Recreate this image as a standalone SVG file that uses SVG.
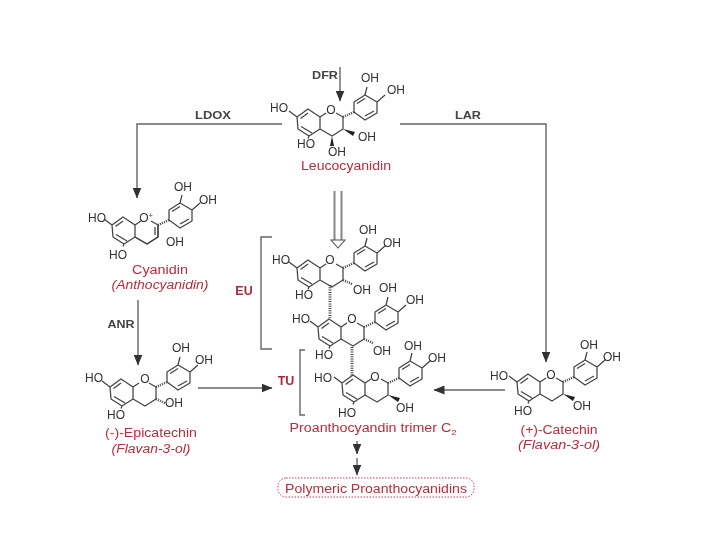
<svg xmlns="http://www.w3.org/2000/svg" width="720" height="540" viewBox="0 0 720 540">
<style>
.b{fill:none;stroke:#444;stroke-width:1.25;stroke-linejoin:round}
.h{fill:none;stroke:#444;stroke-width:3;stroke-dasharray:1 1.3}
.c{fill:none;stroke:#666;stroke-width:1.4}
.m{font:12px "Liberation Sans",Arial,sans-serif;fill:#333;text-anchor:middle}
.r{font:12px "Liberation Sans",Arial,sans-serif;fill:#b03040;text-anchor:middle}
.i{font-style:italic}
.l{font:bold 10.5px "Liberation Sans",Arial,sans-serif;fill:#444;text-anchor:middle}
.e{font:bold 12.5px "Liberation Sans",Arial,sans-serif;fill:#a82a3a;text-anchor:middle}
</style>
<defs>
<marker id="a" viewBox="0 0 11 9" refX="10.500" refY="4.500" markerWidth="11" markerHeight="9" markerUnits="userSpaceOnUse" orient="auto"><path d="M0,0L11,4.500L0,9Z" fill="#333"/></marker>
<filter id="s" x="-5%" y="-5%" width="110%" height="110%"><feGaussianBlur stdDeviation="0.4"/></filter>
<g id="f">
<path class="b" d="M-23,0L-12,-8L0,0L0,12L-11,19L-22,12ZM-19.500,1.500L-12,-4M-8,16L-19,9.500M0,0L6,-4M16,-4L23,0L23,12L12,19L0,12M34,-5L34,-15L45,-22L57,-15L57,-4L45,3ZM37,-13.500L45,-18.500M54,-6L45,-1M-23,0L-31,-6M-11,19L-12,21.500M45,-22L47,-30M57,-15L65,-22"/>
<path d="M23,0L34,-5" fill="none" stroke="#444" stroke-width="2.500" stroke-dasharray="1 1.200"/>
</g>
<path id="w" d="M23,12L35,15L33,19Z" fill="#222"/>
<path id="d" d="M23,12L33,16.500" fill="none" stroke="#444" stroke-width="2.500" stroke-dasharray="1 1.200"/>
</defs>
<rect width="720" height="540" fill="#fff"/>
<g filter="url(#s)">
<g id="connectors">
<path class="c" d="M282,124H137V198" marker-end="url(#a)"/>
<path class="c" d="M400,124H546V362" marker-end="url(#a)"/>
<path class="c" d="M340,67V101" marker-end="url(#a)"/>
<path class="c" d="M138,300V365" marker-end="url(#a)"/>
<path class="c" d="M198,388H272" marker-end="url(#a)"/>
<path class="c" d="M505,390H434" marker-end="url(#a)"/>
<path d="M334.500,191V240M341.500,191V240" fill="none" stroke="#888" stroke-width="2"/>
<path d="M331,240H345L338,248Z" fill="#fff" stroke="#555" stroke-width="1.100"/>
<path class="c" d="M357,441V454" marker-end="url(#a)"/>
<path class="c" d="M357,458V475" marker-end="url(#a)"/>
</g>
<g id="labels">
<text class="l" x="213" y="119" textLength="36" lengthAdjust="spacingAndGlyphs">LDOX</text>
<text class="l" x="468" y="119" textLength="26" lengthAdjust="spacingAndGlyphs">LAR</text>
<text class="l" x="325" y="79" textLength="26" lengthAdjust="spacingAndGlyphs">DFR</text>
<text class="l" x="121" y="328" textLength="27" lengthAdjust="spacingAndGlyphs">ANR</text>
</g>
<g id="leucocyanidin">
<use href="#f" transform="translate(320,117)"/>
<use href="#w" transform="translate(320,117)"/>
<path d="M332,136L330,146H334Z" fill="#222"/>
<text class="m" x="331" y="114">O</text><text class="m" x="279" y="112">HO</text><text class="m" x="370" y="82">OH</text><text class="m" x="396" y="94">OH</text><text class="m" x="367" y="141">OH</text><text class="m" x="306" y="148">HO</text><text class="m" x="337" y="156">OH</text>
<text class="r" x="346" y="170" textLength="90" lengthAdjust="spacingAndGlyphs">Leucocyanidin</text>
</g>
<g id="cyanidin">
<use href="#f" transform="translate(135,225)"/>
<path class="b" d="M158,225L158,237L147,244L135,237M155,227V235"/>
<text class="m" x="146" y="222">O<tspan font-size="7" dy="-4">+</tspan></text><text class="m" x="97" y="222">HO</text><text class="m" x="183" y="191">OH</text><text class="m" x="208" y="204">OH</text><text class="m" x="175" y="246">OH</text><text class="m" x="118" y="259">HO</text>
<text class="r" x="160" y="274" textLength="56" lengthAdjust="spacingAndGlyphs">Cyanidin</text><text class="r i" x="160" y="289" textLength="97" lengthAdjust="spacingAndGlyphs">(Anthocyanidin)</text>
</g>
<g id="epicatechin">
<use href="#f" transform="translate(133,387)"/>
<use href="#d" transform="translate(133,387)"/>
<text class="m" x="145" y="383">O</text><text class="m" x="94" y="382">HO</text><text class="m" x="181" y="352">OH</text><text class="m" x="204" y="364">OH</text><text class="m" x="174" y="407">OH</text><text class="m" x="116" y="419">HO</text>
<text class="r" x="151" y="437" textLength="92" lengthAdjust="spacingAndGlyphs">(-)-Epicatechin</text><text class="r i" x="151" y="453" textLength="79" lengthAdjust="spacingAndGlyphs">(Flavan-3-ol)</text>
</g>
<g id="catechin">
<use href="#f" transform="translate(540,382)"/>
<use href="#w" transform="translate(540,382)"/>
<text class="m" x="551" y="379">O</text><text class="m" x="499" y="380">HO</text><text class="m" x="589" y="349">OH</text><text class="m" x="612" y="361">OH</text><text class="m" x="582" y="410">OH</text><text class="m" x="523" y="415">HO</text>
<text class="r" x="559" y="434" textLength="77" lengthAdjust="spacingAndGlyphs">(+)-Catechin</text><text class="r i" x="559" y="449" textLength="82" lengthAdjust="spacingAndGlyphs">(Flavan-3-ol)</text>
</g>
<g id="trimer">
<use href="#f" transform="translate(320,268)"/>
<use href="#d" transform="translate(320,268)"/>
<use href="#f" transform="translate(341,327)"/>
<use href="#d" transform="translate(341,327)"/>
<use href="#f" transform="translate(365,383)"/>
<use href="#w" transform="translate(365,383)"/>
<path class="h" d="M330,285V318M352,347V377"/>
<text class="m" x="330" y="264">O</text><text class="m" x="281" y="264">HO</text><text class="m" x="368" y="234">OH</text><text class="m" x="392" y="247">OH</text><text class="m" x="362" y="294">OH</text><text class="m" x="304" y="299">HO</text>
<text class="m" x="352" y="323">O</text><text class="m" x="301" y="323">HO</text><text class="m" x="388" y="292">OH</text><text class="m" x="415" y="304">OH</text><text class="m" x="382" y="355">OH</text><text class="m" x="324" y="359">HO</text>
<text class="m" x="375" y="381">O</text><text class="m" x="323" y="382">HO</text><text class="m" x="413" y="350">OH</text><text class="m" x="437" y="362">OH</text><text class="m" x="405" y="412">OH</text><text class="m" x="347" y="417">HO</text>
<text class="r" x="373" y="432" textLength="167" lengthAdjust="spacingAndGlyphs">Proanthocyandin trimer C<tspan font-size="8" dy="3">2</tspan></text>
</g>
<g id="eu"><path d="M272,237H261V349H272" fill="none" stroke="#666" stroke-width="1.400"/><text class="e" x="244" y="295">EU</text></g>
<g id="tu"><path d="M305,350H300V415H305" fill="none" stroke="#666" stroke-width="1.400"/><text class="e" x="286" y="385">TU</text></g>
<g id="polymeric"><rect x="278" y="478" width="196" height="19" rx="8" fill="none" stroke="#b03040" stroke-width="0.900" stroke-dasharray="1.500 1.500"/><text class="r" x="376" y="493" textLength="182" lengthAdjust="spacingAndGlyphs">Polymeric Proanthocyanidins</text></g>
</g>
</svg>
